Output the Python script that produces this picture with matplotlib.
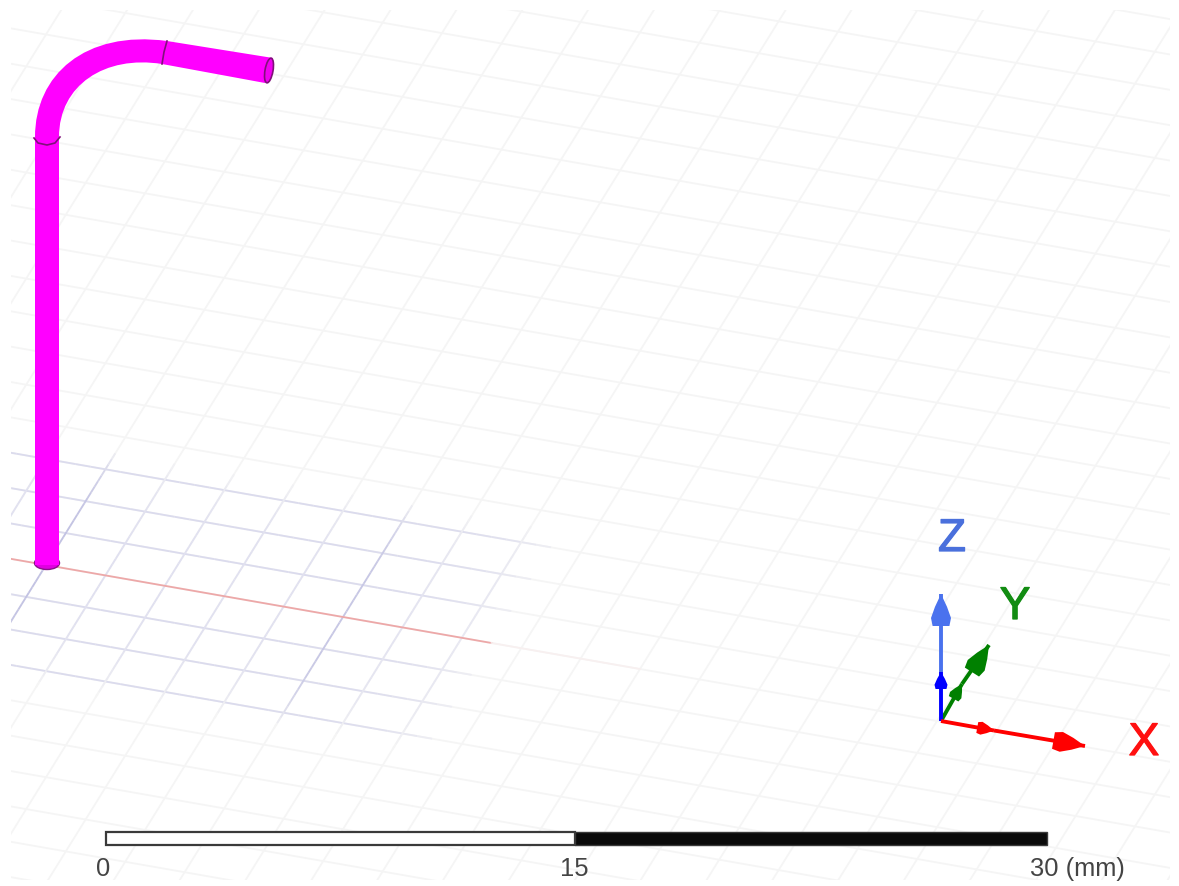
import numpy as np
import matplotlib
matplotlib.use("Agg")
import matplotlib.pyplot as plt
import matplotlib.patheffects as pe
from matplotlib.collections import LineCollection
from matplotlib.patches import Rectangle, Ellipse, PathPatch
from matplotlib.path import Path

plt.rcParams['font.family'] = ['Liberation Sans', 'DejaVu Sans']

# everything is in screen pixels of the 3D view
origin = (46.0, 565.0)
step_u = (59.4, 10.4)
step_v = (19.8, -31.9)
faint_u = list(range(-13, 26))      # rows
faint_j = list(range(-12, 26))      # columns
active_half_u = 7.5
active_half_v = 3.5

# pipe outline, bezier control points for the bend
pipe_verts = [(35, 565), (35, 137), (35, 75), (85, 30), (167, 41), (273, 58),
              (265, 83), (162, 64), (105, 55), (59, 85), (59, 137), (59, 565), (35, 565)]
pipe_codes = [Path.MOVETO, Path.LINETO, Path.CURVE4, Path.CURVE4, Path.CURVE4, Path.LINETO,
              Path.LINETO, Path.LINETO, Path.CURVE4, Path.CURVE4, Path.CURVE4, Path.LINETO, Path.CLOSEPOLY]

seam1_x = [34, 38, 47, 55, 60]
seam1_y = [138, 143, 145, 143, 137]
seam2_x = [167, 164, 162]
seam2_y = [41, 52, 64]

# scale bar
bar_pos = [106, 575, 1047]
bar_labels = ["0", "15", "30 (mm)"]

# triad
triad_origin = (941, 721)
triad_tips = {"X": (1085, 746), "Y": (989, 645), "Z": (941, 594)}
triad_mid = {"X": (994, 730.5), "Y": (962, 684), "Z": (941, 672)}
triad_dark = {"X": "#ff0000", "Y": "#008000", "Z": "#0000ff"}
triad_light = {"X": "#ff0000", "Y": "#008000", "Z": "#4a72ee"}
triad_text = {"X": "#ff1010", "Y": "#128c12", "Z": "#4a70dc"}
triad_label = {"X": (1144, 743), "Y": (1015, 607), "Z": (952, 539)}


def point(s, k):
    return (origin[0] + s * step_u[0] + k * step_v[0],
            origin[1] + s * step_u[1] + k * step_v[1])


def mix(c, a):
    # blend a colour into the faint grid grey
    base = np.array([0.96, 0.96, 0.96])
    return tuple(base + (np.array(c) - base) * a)


def head(tip, start, length, width, color):
    # arrow head pointing along start -> tip, bulging out before its base
    tip = np.array(tip, dtype=float)
    d = tip - np.array(start, dtype=float)
    d = d / np.hypot(*d)
    n = np.array([-d[1], d[0]])
    pts = [tip,
           tip - 0.4 * length * d + 0.3 * width * n,
           tip - 0.75 * length * d + 0.5 * width * n,
           tip - length * d + 0.42 * width * n,
           tip - length * d - 0.42 * width * n,
           tip - 0.75 * length * d - 0.5 * width * n,
           tip - 0.4 * length * d - 0.3 * width * n]
    ax.fill(*zip(*pts), color=color, lw=0, zorder=8)


fig = plt.figure(figsize=(11.79, 8.86), dpi=100)
ax = fig.add_axes([0, 0, 1, 1])
ax.set_xlim(0, 1179)
ax.set_ylim(886, 0)
ax.axis("off")

clip = Rectangle((11, 10), 1159, 870, transform=ax.transData)

# faint grid
segs = []
for k in faint_u:
    segs.append([point(-6, k), point(30, k)])
for j in faint_j:
    segs.append([point(j, -16), point(j, 30)])
lc = LineCollection(segs, colors="#f5f5f5", linewidths=1.3, zorder=1)
ax.add_collection(lc)
lc.set_clip_path(clip)

# bluish grid round the origin, fading out to the edges
segs = []
cols = []
s_vals = np.linspace(-active_half_u, active_half_u, 61)
k_vals = np.linspace(-active_half_v, active_half_v, 41)
for k in range(-3, 4):
    if k == 0:
        continue
    for a, b in zip(s_vals[:-1], s_vals[1:]):
        segs.append([point(a, k), point(b, k)])
        f = 1 - (abs(a) / active_half_u) ** 10
        cols.append(mix((0.86, 0.86, 0.93), f))
for j in range(-7, 8):
    strong = j % 5 == 0
    for a, b in zip(k_vals[:-1], k_vals[1:]):
        segs.append([point(j, a), point(j, b)])
        f = 1 - (abs(a) / active_half_v) ** 4
        c = (0.76, 0.76, 0.89) if strong else (0.88, 0.88, 0.94)
        cols.append(mix(c, f * (1 - (abs(j) / 9.0) ** 4)))
lc2 = LineCollection(segs, colors=cols, linewidths=1.3, zorder=2)
ax.add_collection(lc2)
lc2.set_clip_path(clip)

# red axis line
red, = ax.plot(*zip(point(-1, 0), point(7.5, 0)), color="#eda8a8", lw=1.3, zorder=3)
red.set_clip_path(clip)
ax.plot(*zip(point(7.5, 0), point(10, 0)), color="#f8f0f0", lw=1.2, zorder=3)

# pipe
ax.add_patch(Ellipse((47, 563), 25, 13, fc="#e000e0", ec="#8a108a", lw=1, zorder=4))
ax.add_patch(PathPatch(Path(pipe_verts, pipe_codes), fc="#ff00ff", ec="none", lw=0, zorder=5))
ax.plot(seam1_x, seam1_y, color="#80107a", lw=1.2, zorder=6)
ax.plot(seam2_x, seam2_y, color="#80107a", lw=1.2, zorder=6)
ax.add_patch(Ellipse((269, 70.5), 8, 25, angle=10, fc="#f000f0", ec="#80107a", lw=1.2, zorder=6))

# triad arrows
for name in ["Y", "Z", "X"]:
    tip = triad_tips[name]
    mid = triad_mid[name]
    ax.plot(*zip(mid, tip), color=triad_light[name], lw=2.8, zorder=7, solid_capstyle="butt")
    ax.plot(*zip(triad_origin, mid), color=triad_dark[name], lw=2.8, zorder=7, solid_capstyle="butt")
    head(tip, triad_origin, 32, 20, triad_light[name])
    head(mid, triad_origin, 17, 13, triad_dark[name])
    ax.text(*triad_label[name], name, color=triad_text[name], fontsize=33, ha="center", va="center", zorder=9,
            path_effects=[pe.withStroke(linewidth=0.9, foreground=triad_text[name])])

# scale bar
ax.add_patch(Rectangle((bar_pos[0], 832), bar_pos[1] - bar_pos[0], 13, fc="white", ec="#3a3a3a", lw=1.6, zorder=7))
ax.add_patch(Rectangle((bar_pos[1], 832), bar_pos[2] - bar_pos[1], 13, fc="#0a0a0a", ec="#3a3a3a", lw=1.0, zorder=7))
ax.text(103, 869, bar_labels[0], fontsize=18.4, color="#444444", ha="center", va="center", zorder=9)
ax.text(574, 869, bar_labels[1], fontsize=18.4, color="#444444", ha="center", va="center", zorder=9)
ax.text(1030, 869, bar_labels[2], fontsize=18.4, color="#444444", ha="left", va="center", zorder=9)

fig.savefig("out.png", dpi=100)
